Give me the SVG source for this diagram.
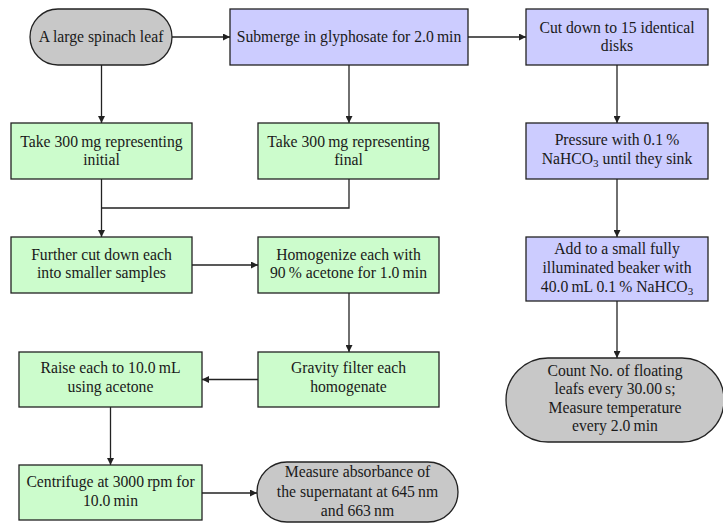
<svg xmlns="http://www.w3.org/2000/svg" width="723" height="523" viewBox="0 0 723 523">
<style>
.n{stroke:#222;stroke-width:1.3}
.g{fill:#c8c8c8}
.b{fill:#ccccff}
.gr{fill:#ccfccc}
text{font-family:"Liberation Serif","Times New Roman",serif;font-size:15.7px;fill:#1a1a1a;text-anchor:middle}
.sub{font-size:11px}
.c{fill:none;stroke:#222;stroke-width:1.3}
</style>
<defs>
<marker id="ah" viewBox="0 0 10 10" refX="10" refY="5" markerWidth="7" markerHeight="7" markerUnits="userSpaceOnUse" orient="auto">
<path d="M0,0 L10,5 L0,10 Z" fill="#222"/>
</marker>
</defs>
<rect width="723" height="523" fill="#fff"/>
<g id="connectors">
<path class="c" d="M172,37 H230" marker-end="url(#ah)"/>
<path class="c" d="M468,37 H526" marker-end="url(#ah)"/>
<path class="c" d="M101.5,65 V123" marker-end="url(#ah)"/>
<path class="c" d="M349,65 V123" marker-end="url(#ah)"/>
<path class="c" d="M101.5,179 V237" marker-end="url(#ah)"/>
<path class="c" d="M349,179 V208 H101.5"/>
<path class="c" d="M192,265 H258" marker-end="url(#ah)"/>
<path class="c" d="M349,293 V352" marker-end="url(#ah)"/>
<path class="c" d="M258,379.5 H202" marker-end="url(#ah)"/>
<path class="c" d="M110.5,407 V465" marker-end="url(#ah)"/>
<path class="c" d="M202,493 H257" marker-end="url(#ah)"/>
<path class="c" d="M617,65 V123" marker-end="url(#ah)"/>
<path class="c" d="M617,179 V237" marker-end="url(#ah)"/>
<path class="c" d="M617,301 V358" marker-end="url(#ah)"/>
</g>
<g id="leaf"><rect class="n g" x="30" y="9" width="142" height="56" rx="28"/><text x="101" y="42">A large spinach leaf</text></g>
<g id="submerge"><rect class="n b" x="230" y="9" width="238" height="56"/><text x="349" y="42">Submerge in glyphosate for 2.0&#8201;min</text></g>
<g id="cut"><rect class="n b" x="526" y="9" width="182" height="56"/><text x="617" y="32.5">Cut down to 15 identical</text><text x="617" y="51">disks</text></g>
<g id="initial"><rect class="n gr" x="11" y="123" width="181" height="56"/><text x="101.5" y="146.5">Take 300&#8201;mg representing</text><text x="101.5" y="165">initial</text></g>
<g id="final"><rect class="n gr" x="258" y="123" width="181" height="56"/><text x="348.5" y="146.5">Take 300&#8201;mg representing</text><text x="348.5" y="165">final</text></g>
<g id="further"><rect class="n gr" x="11" y="237" width="181" height="56"/><text x="101.5" y="259.5">Further cut down each</text><text x="101.5" y="278">into smaller samples</text></g>
<g id="homogenize"><rect class="n gr" x="258" y="237" width="181" height="56"/><text x="348.5" y="259.5">Homogenize each with</text><text x="348.5" y="278">90&#8201;% acetone for 1.0&#8201;min</text></g>
<g id="pressure"><rect class="n b" x="526" y="123" width="182" height="56"/><text x="617" y="145">Pressure with 0.1&#8201;%</text><text x="617" y="163.5">NaHCO<tspan class="sub" dy="3">3</tspan><tspan dy="-3"> until they sink</tspan></text></g>
<g id="add"><rect class="n b" x="526" y="237" width="182" height="64"/><text x="617" y="253.5">Add to a small fully</text><text x="617" y="272.5">illuminated beaker with</text><text x="617" y="291.5">40.0&#8201;mL 0.1&#8201;% NaHCO<tspan class="sub" dy="3">3</tspan></text></g>
<g id="count"><rect class="n g" x="506" y="358" width="218" height="84" rx="42"/><text x="615" y="375.5">Count No. of floating</text><text x="615" y="394">leafs every 30.00&#8201;s;</text><text x="615" y="412.5">Measure temperature</text><text x="615" y="431">every 2.0&#8201;min</text></g>
<g id="gravity"><rect class="n gr" x="258" y="352" width="181" height="55"/><text x="348.5" y="373">Gravity filter each</text><text x="348.5" y="391.5">homogenate</text></g>
<g id="raise"><rect class="n gr" x="19" y="352" width="183" height="55"/><text x="110.5" y="373">Raise each to 10.0&#8201;mL</text><text x="110.5" y="391.5">using acetone</text></g>
<g id="centrifuge"><rect class="n gr" x="19" y="465" width="183" height="55"/><text x="110.5" y="487">Centrifuge at 3000&#8201;rpm for</text><text x="110.5" y="505.5">10.0&#8201;min</text></g>
<g id="measure"><rect class="n g" x="257" y="462" width="201" height="60" rx="30"/><text x="357.5" y="477">Measure absorbance of</text><text x="357.5" y="496.5">the supernatant at 645&#8201;nm</text><text x="357.5" y="515.5">and 663&#8201;nm</text></g>
</svg>
